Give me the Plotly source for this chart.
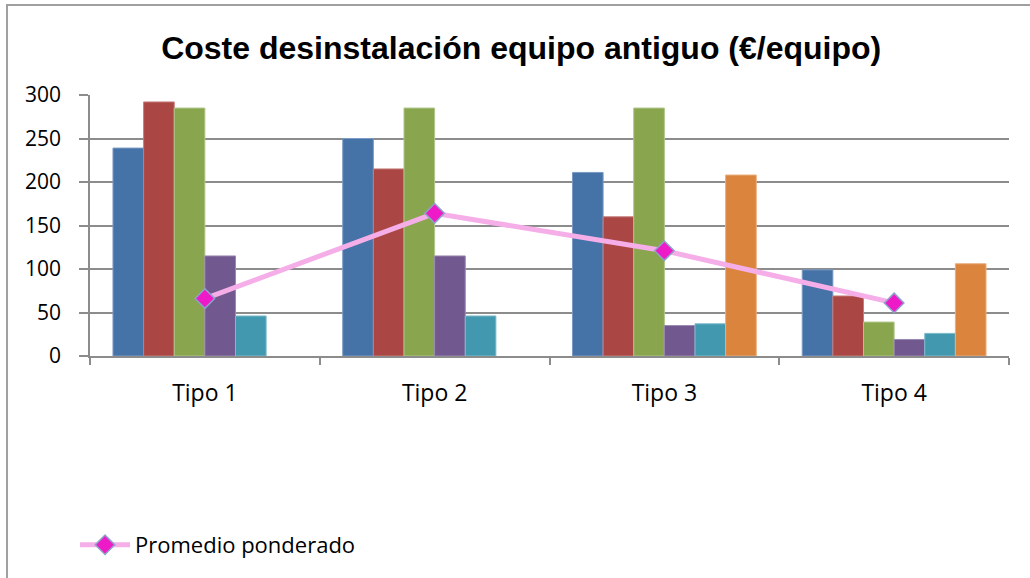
import plotly.graph_objects as go

tipos = ['Tipo 1', 'Tipo 2', 'Tipo 3', 'Tipo 4']

serie_1 = [239, 250, 211, 99]
serie_2 = [292, 215, 160, 69]
serie_3 = [285, 285, 285, 39]
serie_4 = [115, 115, 35, 19]
serie_5 = [46, 46, 37, 26]
serie_6 = [None, None, 208, 106]
promedio = [66, 164, 121, 61]

series = [serie_1, serie_2, serie_3, serie_4, serie_5, serie_6]
nombres = ['Serie 1', 'Serie 2', 'Serie 3', 'Serie 4', 'Serie 5', 'Serie 6']
colores = ['#4572A7', '#AA4643', '#89A54E', '#71588F', '#4198AF', '#DB843D']
bordes = ['#7B9BC4', '#C77C79', '#B0C68A', '#9A88B0', '#7DBBCB', '#EAAE7E']

FONT = 'Open Sans'

fig = go.Figure()

for vals, nombre, col, borde in zip(series, nombres, colores, bordes):
    fig.add_trace(go.Bar(name=nombre, x=tipos, y=vals, showlegend=False,
                         marker=dict(color=col, line=dict(color=borde, width=1))))

fig.add_trace(go.Scatter(name='Promedio ponderado', x=tipos, y=promedio, mode='lines+markers',
                         line=dict(color='#F5AEE8', width=5),
                         marker=dict(symbol='diamond', size=15, color='#EE1AC8',
                                     line=dict(color='#8DA3C8', width=1.5))))

fig.update_layout(
    width=1030, height=578,
    margin=dict(l=90, r=21, t=95, b=222),
    paper_bgcolor='white', plot_bgcolor='white',
    barmode='group', bargap=0.2, bargroupgap=0,
    font=dict(family=FONT, size=20, color='black'),
    title=dict(text='<b>Coste desinstalación equipo antiguo (€/equipo)</b>',
               x=0.506, xanchor='center', y=0.918, yanchor='middle',
               font=dict(family='Liberation Sans', size=32, color='black')),
    showlegend=True,
    legend=dict(x=-0.0163, xanchor='left', y=-0.724, yanchor='middle',
                font=dict(family=FONT, size=22), bgcolor='rgba(0,0,0,0)',
                itemwidth=50),
    shapes=[dict(type='rect', xref='paper', yref='paper',
                 x0=-0.0903, x1=1.03, y0=-0.9, y1=1.345,
                 line=dict(color='#A0A0A0', width=2), layer='below')],
)

fig.update_yaxes(range=[0, 300], dtick=50, showgrid=True, gridcolor='#8C8C8C', gridwidth=1.5,
                 showline=True, linecolor='#8C8C8C', linewidth=1.5,
                 ticks='outside', ticklen=9, tickcolor='#8C8C8C', tickwidth=1.5,
                 tickfont=dict(family=FONT, size=21), ticklabelstandoff=14, zeroline=False)
fig.update_xaxes(showline=True, linecolor='#8C8C8C', linewidth=2,
                 ticks='outside', tickson='boundaries', ticklen=7, tickcolor='#8C8C8C', tickwidth=1.5,
                 tickfont=dict(family=FONT, size=23), ticklabelstandoff=15)

fig.write_html('out.html', config={'displayModeBar': False},
               post_script="document.body.style.margin='0';")
